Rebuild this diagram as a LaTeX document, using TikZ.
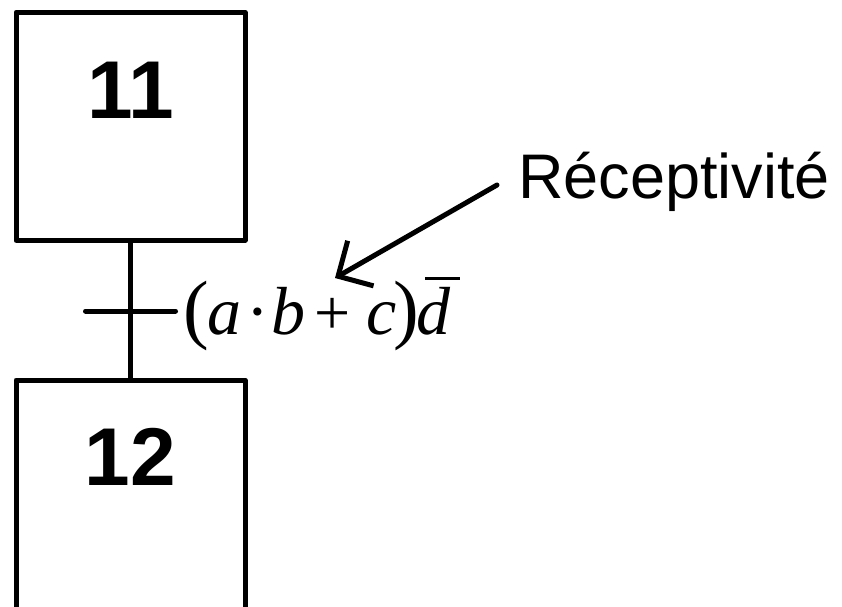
\documentclass[tikz,border=0pt]{standalone}
\usepackage{fontspec}
\setmainfont{Liberation Sans}
\newfontfamily\serif{Liberation Serif}
\usetikzlibrary{arrows.meta}
\tikzset{
  stepbox/.style={draw, line width=5pt, line join=round, minimum width=229pt, inner sep=0pt},
  num/.style={anchor=base, inner sep=0pt, font=\bfseries\fontsize{82}{82}\selectfont},
  link/.style={line width=4.5pt},
  bar/.style={line width=5pt, line cap=round},
  arr/.style={line width=5pt, line cap=round, line join=round,
    -{Straight Barb[length=26pt, width=52pt, line width=5pt]}},
  lbl/.style={anchor=base west, inner sep=0pt}
}
\newcommand{\bigp}[1]{{\fontsize{77}{77}\selectfont #1}}
\newcommand{\midp}[1]{{\fontsize{64}{64}\selectfont #1}}
\begin{document}
\begin{tikzpicture}[x=1pt,y=-1pt]
\useasboundingbox (0,0) rectangle (842,606);
\clip (0,0) rectangle (842,606);
% steps
\node[stepbox, minimum height=228pt] (s11) at (130.5,126.25) {};
\node[stepbox, minimum height=240pt] (s12) at (130.5,500) {};
\node[num] (t11) at (130.5,118) {11};
\node[num] (t12) at (130.5,485) {12};
% link and transition
\draw[link] (s11.south) -- (s12.north);
\coordinate (tbl) at (85.5,311);
\coordinate (tbr) at (175.5,311);
\draw[bar] (tbl) -- (tbr);
% receptivity
\node[lbl, font=\serif\fontsize{68}{68}\selectfont] (cond) at (183,334)
  {\makebox[24pt][l]{\bigp{(}}\makebox[39.5pt][l]{\itshape a}\makebox[25pt][l]{\textperiodcentered}\makebox[43pt][l]{\itshape b}\makebox[52pt][l]{\midp{+}}\makebox[26.5pt][l]{\itshape c}\makebox[23.5pt][l]{\bigp{)}}\rlap{\itshape d}\kern8.5pt\rule[54.5pt]{35pt}{3pt}};
\node[lbl, font=\fontsize{63}{63}\selectfont] (rec) at (518,198) {Réceptivité};
\coordinate (a1) at (497,185);
\coordinate (a2) at (335,278);
\draw[arr] (a1) -- (a2);
\end{tikzpicture}
\end{document}
